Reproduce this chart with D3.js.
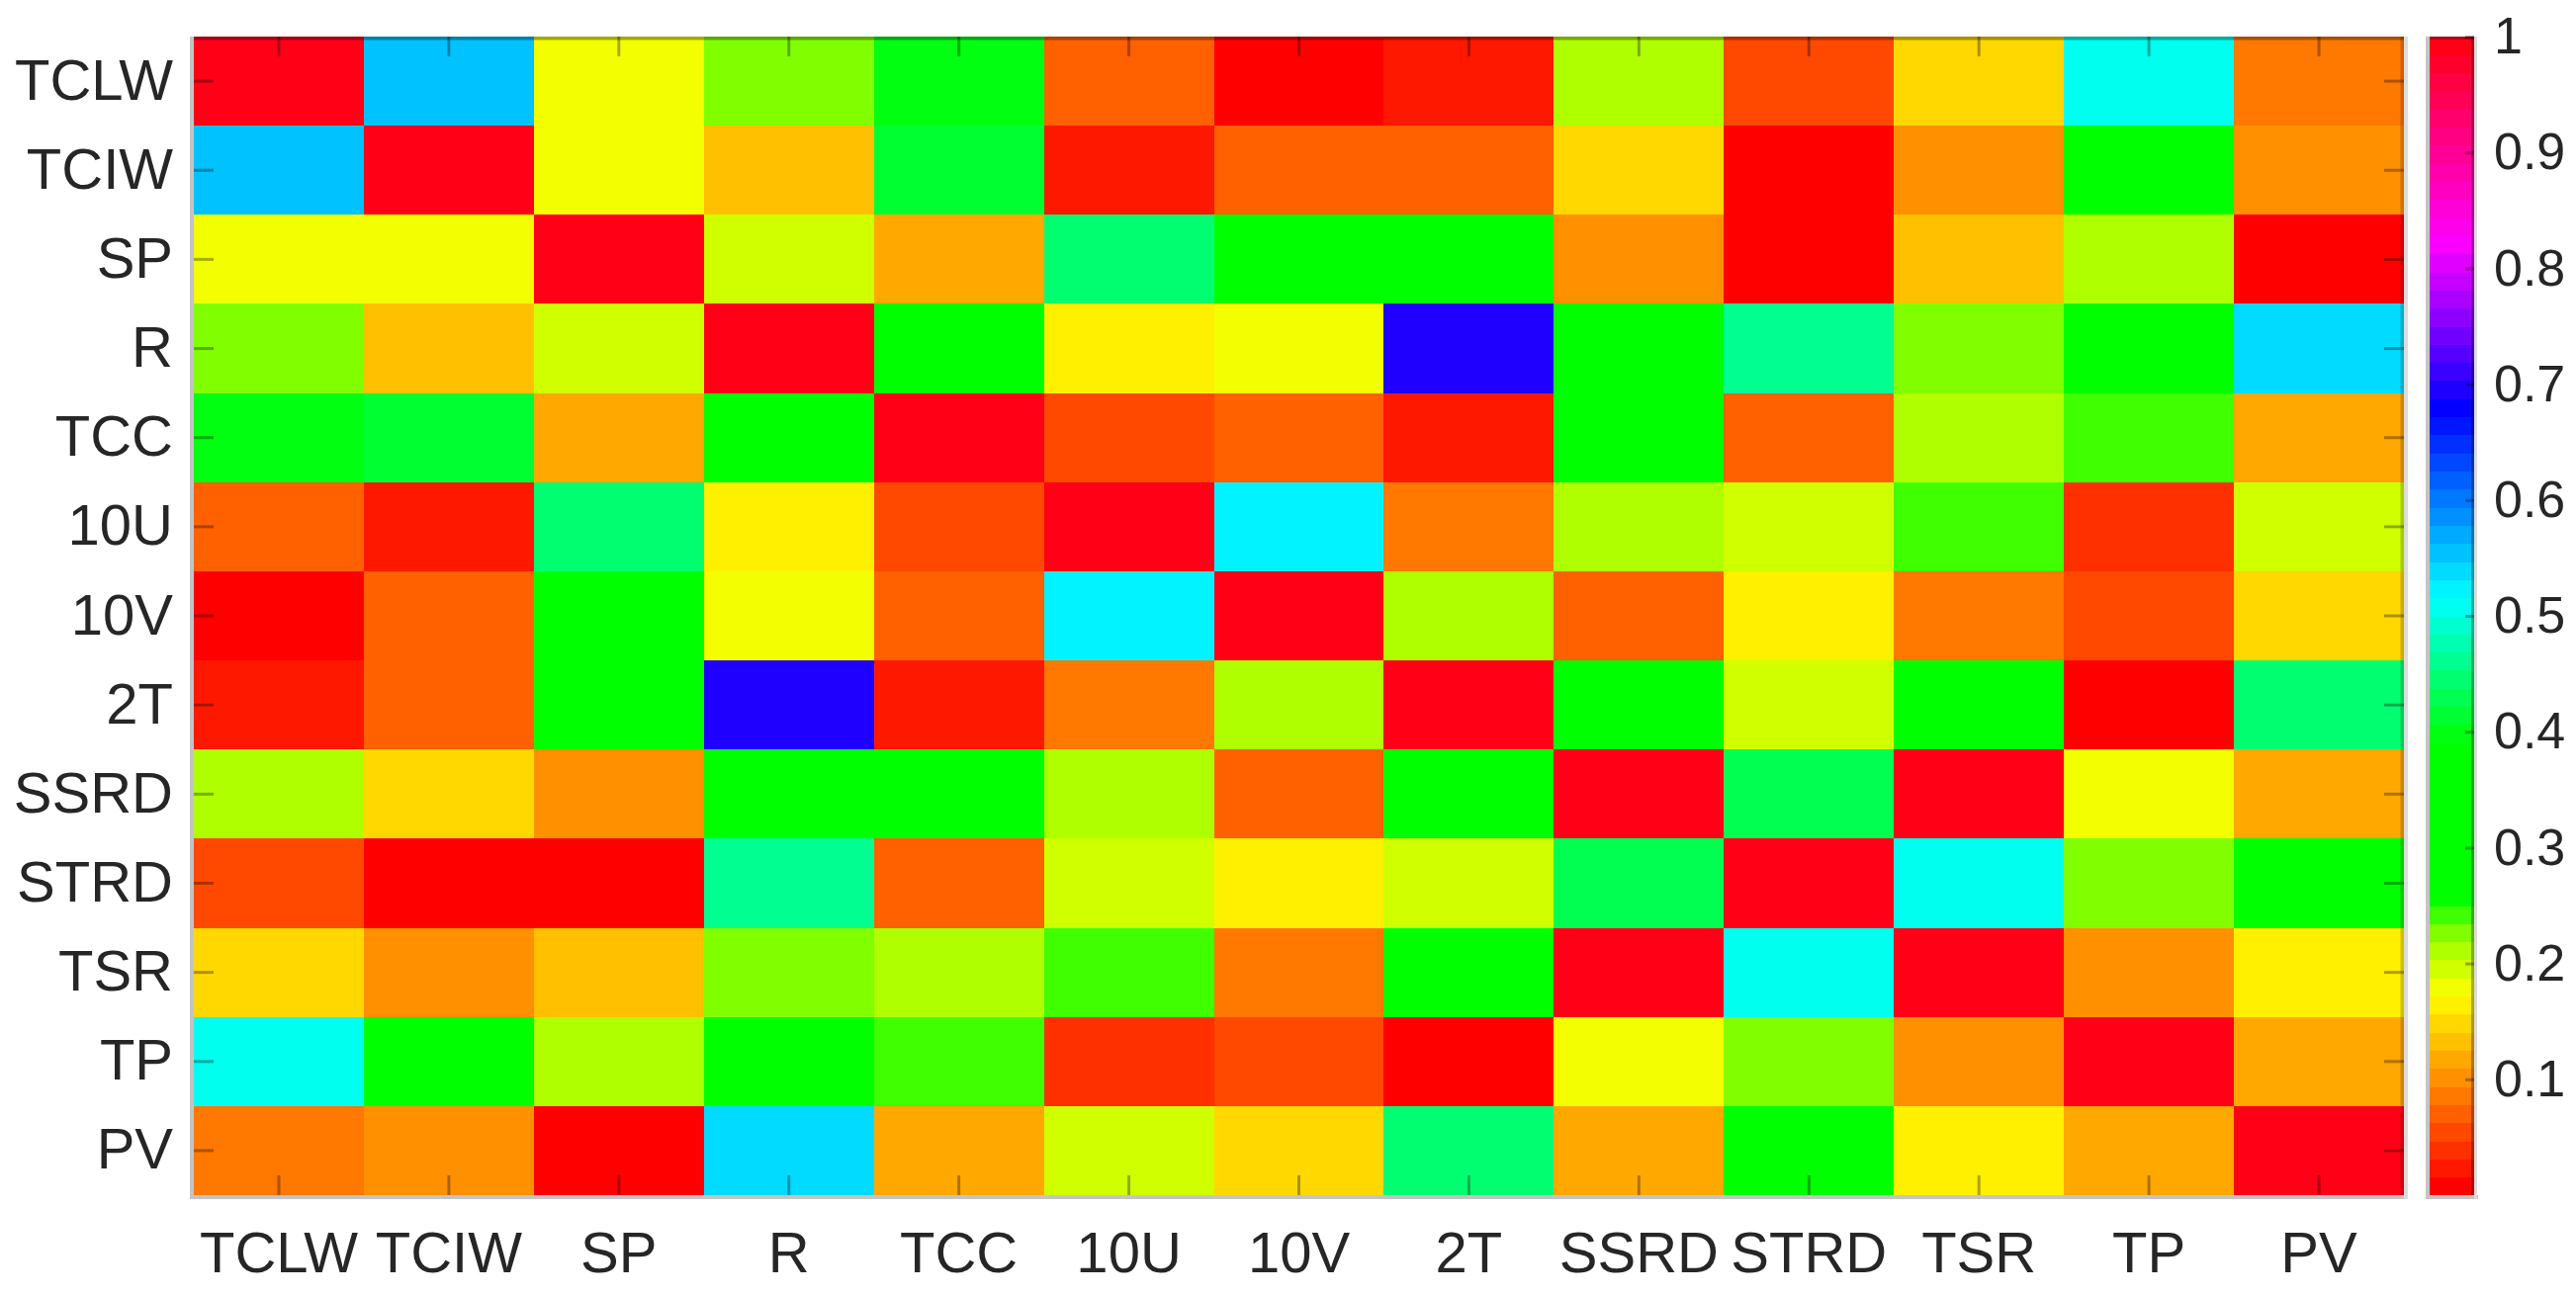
<!DOCTYPE html>
<html>
<head>
<meta charset="utf-8">
<script src="https://cdn.jsdelivr.net/npm/d3@7/dist/d3.min.js"></script>
<style>
  html, body { margin: 0; padding: 0; background: #fff; }
  svg { display: block; }
  text { font-family: "Liberation Sans", Arial, Helvetica, sans-serif; fill: #262626; }
</style>
</head>
<body>
<svg id="chart" width="2605" height="1310"></svg>
<script>
// ---- data ----
const categories = ["TCLW","TCIW","SP","R","TCC","10U","10V","2T","SSRD","STRD","TSR","TP","PV"];

const rowTCLW = [1, 0.555, 0.18, 0.225, 0.40, 0.07, 0.01, 0.02, 0.21, 0.055, 0.15, 0.51, 0.085];
const rowTCIW = [0.555, 1, 0.18, 0.13, 0.42, 0.02, 0.07, 0.07, 0.15, 0.005, 0.10, 0.36, 0.10];
const rowSP   = [0.18, 0.18, 1, 0.195, 0.12, 0.445, 0.33, 0.33, 0.10, 0.005, 0.13, 0.21, 0.01];
const rowR    = [0.225, 0.13, 0.195, 1, 0.32, 0.165, 0.18, 0.695, 0.33, 0.46, 0.225, 0.35, 0.54];
const rowTCC  = [0.40, 0.42, 0.12, 0.32, 1, 0.055, 0.07, 0.02, 0.31, 0.07, 0.21, 0.24, 0.12];
const row10U  = [0.07, 0.02, 0.445, 0.165, 0.055, 1, 0.53, 0.085, 0.21, 0.195, 0.24, 0.04, 0.195];
const row10V  = [0.01, 0.07, 0.33, 0.18, 0.07, 0.53, 1, 0.21, 0.07, 0.165, 0.085, 0.055, 0.15];
const row2T   = [0.02, 0.07, 0.33, 0.695, 0.02, 0.085, 0.21, 1, 0.34, 0.195, 0.30, 0.01, 0.445];
const rowSSRD = [0.21, 0.15, 0.10, 0.33, 0.31, 0.21, 0.07, 0.34, 1, 0.43, 0.99, 0.18, 0.12];
const rowSTRD = [0.055, 0.005, 0.005, 0.46, 0.07, 0.195, 0.165, 0.195, 0.43, 1, 0.51, 0.225, 0.36];
const rowTSR  = [0.15, 0.10, 0.13, 0.225, 0.21, 0.24, 0.085, 0.30, 0.99, 0.51, 1, 0.10, 0.165];
const rowTP   = [0.51, 0.36, 0.21, 0.35, 0.24, 0.04, 0.055, 0.01, 0.18, 0.225, 0.10, 1, 0.12];
const rowPV   = [0.085, 0.10, 0.01, 0.54, 0.12, 0.195, 0.15, 0.445, 0.12, 0.36, 0.165, 0.12, 1];

const matrix = [rowTCLW,rowTCIW,rowSP,rowR,rowTCC,row10U,row10V,row2T,rowSSRD,rowSTRD,rowTSR,rowTP,rowPV];

const colorbarTicks = [0.1,0.2,0.3,0.4,0.5,0.6,0.7,0.8,0.9,1];

// colormap definition (value -> hue), 64 discrete levels like MATLAB
const cmapStops = [0, 0.0078, 0.164, 0.18, 0.195, 0.211, 0.227, 0.242, 0.258, 0.39, 0.516, 0.678, 0.822, 1.0];
const cmapHues  = [0, 0, 56.5, 63, 71, 78.6, 90, 105, 120, 120, 180, 240, 300, 357];
const nLevels = 64;

// ---- layout ----
const W = 2605, H = 1310;
const plot = {x0: 196, x1: 2431, y0: 37, y1: 1209};
const cbar = {x0: 2457, x1: 2502};

const svg = d3.select("#chart");
svg.append("rect").attr("width", W).attr("height", H).attr("fill", "#fff");

const hueScale = d3.scaleLinear().domain(cmapStops).range(cmapHues).clamp(true);
function colorOf(v) {
  let k = Math.floor(v * nLevels);
  k = Math.max(0, Math.min(nLevels - 1, k));
  const c = (k + 0.5) / nLevels;
  return d3.hsl(hueScale(c), 1, 0.5).formatHex();
}

const x = d3.scaleBand().domain(categories).range([plot.x0, plot.x1]).padding(0);
const y = d3.scaleBand().domain(categories).range([plot.y0, plot.y1]).padding(0);

const cells = [];
matrix.forEach((row, i) => row.forEach((v, j) => cells.push({r: categories[i], c: categories[j], v})));

svg.append("g").selectAll("rect").data(cells).join("rect")
  .attr("x", d => x(d.c))
  .attr("y", d => y(d.r))
  .attr("width", x.bandwidth() + 0.5)
  .attr("height", y.bandwidth() + 0.5)
  .attr("fill", d => colorOf(d.v))
  .attr("shape-rendering", "crispEdges");

// frame: light gray outer shadow left/bottom, dark translucent top/right
const frame = svg.append("g");
frame.append("rect").attr("x", plot.x0 - 4).attr("y", plot.y0).attr("width", 4).attr("height", plot.y1 - plot.y0 + 4).attr("fill", "#c4c4c4");
frame.append("rect").attr("x", plot.x0 - 4).attr("y", plot.y1).attr("width", plot.x1 - plot.x0 + 8).attr("height", 4).attr("fill", "#c4c4c4");
frame.append("rect").attr("x", plot.x1).attr("y", plot.y0).attr("width", 4).attr("height", plot.y1 - plot.y0 + 4).attr("fill", "#dcdcdc");
frame.append("rect").attr("x", plot.x0).attr("y", plot.y0).attr("width", plot.x1 - plot.x0).attr("height", 3.5).attr("fill", "rgba(0,0,0,0.33)");
frame.append("rect").attr("x", plot.x1 - 3.5).attr("y", plot.y0).attr("width", 3.5).attr("height", plot.y1 - plot.y0).attr("fill", "rgba(0,0,0,0.2)");

const tickStroke = "rgba(0,0,0,0.32)";
const fontSize = 58;

function styleAxis(g, showText) {
  g.select(".domain").remove();
  g.selectAll(".tick line").attr("stroke", tickStroke).attr("stroke-width", 3);
  g.selectAll(".tick text").attr("font-size", fontSize).attr("fill", "#262626")
    .attr("font-family", '"Liberation Sans", Arial, Helvetica, sans-serif');
  if (!showText) g.selectAll(".tick text").remove();
}

svg.append("g").attr("transform", `translate(0,${plot.y1})`)
  .call(d3.axisBottom(x).tickSize(-20).tickPadding(37))
  .call(g => styleAxis(g, true));
svg.append("g").attr("transform", `translate(0,${plot.y0})`)
  .call(d3.axisTop(x).tickSize(-20))
  .call(g => styleAxis(g, false));
svg.append("g").attr("transform", `translate(${plot.x0},0)`)
  .call(d3.axisLeft(y).tickSize(-20).tickPadding(21))
  .call(g => styleAxis(g, true));
svg.append("g").attr("transform", `translate(${plot.x1},0)`)
  .call(d3.axisRight(y).tickSize(-20))
  .call(g => styleAxis(g, false));

// ---- colorbar ----
const cy = d3.scaleLinear().domain([0, 1]).range([plot.y1, plot.y0]);
const levels = d3.range(nLevels);
svg.append("g").selectAll("rect").data(levels).join("rect")
  .attr("x", cbar.x0)
  .attr("width", cbar.x1 - cbar.x0)
  .attr("y", k => cy((k + 1) / nLevels))
  .attr("height", k => cy(k / nLevels) - cy((k + 1) / nLevels) + 0.5)
  .attr("fill", k => colorOf((k + 0.5) / nLevels))
  .attr("shape-rendering", "crispEdges");

svg.append("rect").attr("x", cbar.x0 - 4).attr("y", plot.y0).attr("width", 4).attr("height", plot.y1 - plot.y0 + 4).attr("fill", "#c4c4c4");
svg.append("rect").attr("x", cbar.x0 - 4).attr("y", plot.y1).attr("width", cbar.x1 - cbar.x0 + 8).attr("height", 4).attr("fill", "#c4c4c4");
svg.append("rect").attr("x", cbar.x1 - 3).attr("y", plot.y0).attr("width", 3).attr("height", plot.y1 - plot.y0).attr("fill", "rgba(0,0,0,0.3)");
svg.append("rect").attr("x", cbar.x1).attr("y", plot.y0).attr("width", 3).attr("height", plot.y1 - plot.y0 + 4).attr("fill", "#dcdcdc");
svg.append("rect").attr("x", cbar.x0).attr("y", plot.y0).attr("width", cbar.x1 - cbar.x0).attr("height", 3).attr("fill", "rgba(0,0,0,0.3)");

svg.append("g").attr("transform", `translate(${cbar.x1},0)`)
  .call(d3.axisRight(cy).tickValues(colorbarTicks).tickSize(-9).tickPadding(20)
    .tickFormat(d => d === 1 ? "1" : d3.format(".1f")(d)))
  .call(g => {
    g.select(".domain").remove();
    g.selectAll(".tick line").attr("stroke", tickStroke).attr("stroke-width", 3);
    g.selectAll(".tick text").attr("font-size", 52).attr("fill", "#262626")
      .attr("font-family", '"Liberation Sans", Arial, Helvetica, sans-serif');
  });
// the "1" label sits just inside the top like MATLAB
</script>
</body>
</html>
